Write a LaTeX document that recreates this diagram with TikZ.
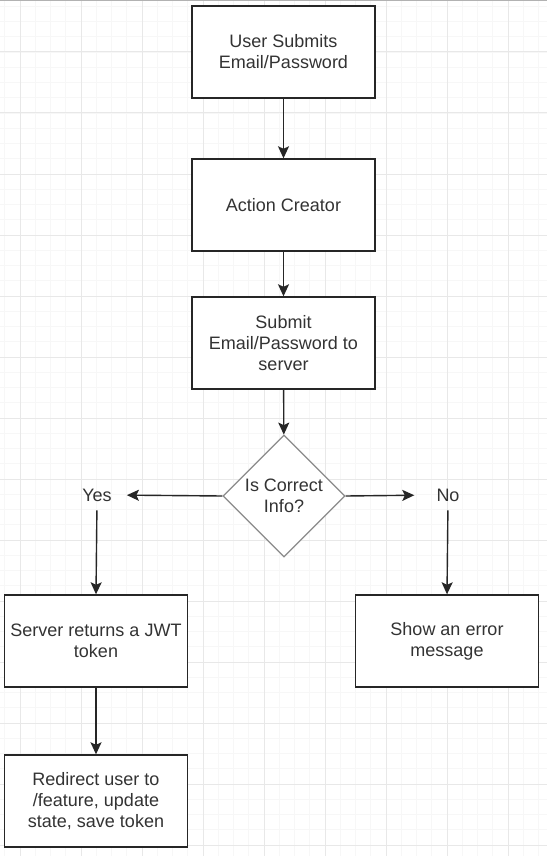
\documentclass[tikz,border=0pt]{standalone}
\usepackage{fontspec}
\setmainfont{Liberation Sans}
\usetikzlibrary{shapes.geometric,arrows.meta}
\definecolor{txt}{HTML}{333333}
\definecolor{edge}{HTML}{262626}
\definecolor{dia}{HTML}{8A8A8A}
\definecolor{gmin}{HTML}{F7F7F7}
\definecolor{gmaj}{HTML}{E8E8E8}
\tikzset{
  procbox/.style={draw=edge, line width=1.4pt, fill=white, minimum width=183pt, minimum height=92pt,
    inner sep=0pt, align=center, text=txt, font=\fontsize{18}{21}\selectfont},
  decision/.style={draw=dia, line width=1.2pt, fill=white, shape=diamond, minimum width=122pt,
    minimum height=122pt, inner sep=0pt, align=center, text=txt, font=\fontsize{18}{21}\selectfont},
  lbl/.style={text=txt, font=\fontsize{18}{21}\selectfont, inner sep=0pt},
  arr/.style={draw=edge, line width=1.4pt, -{Stealth[length=12pt,width=11pt,inset=2.5pt]}},
}
\begin{document}
\begin{tikzpicture}[x=1pt,y=-1pt]
\useasboundingbox (0,0) rectangle (547,856);
\fill[white] (0,0) rectangle (547,856);
% minor grid
\foreach \i in {0,...,36} {
  \pgfmathsetmacro\gx{4.75+15.25*\i}
  \draw[gmin, line width=0.6pt] (\gx,0) -- (\gx,856);
}
\foreach \i in {0,...,57} {
  \pgfmathsetmacro\gy{6.25+15.25*\i}
  \draw[gmin, line width=0.6pt] (0,\gy) -- (547,\gy);
}
% major grid
\foreach \i in {0,...,8} {
  \pgfmathsetmacro\gx{20+61*\i}
  \draw[gmaj, line width=1pt] (\gx,0) -- (\gx,856);
}
\foreach \i in {0,...,13} {
  \pgfmathsetmacro\gy{52+61*\i}
  \draw[gmaj, line width=1pt] (0,\gy) -- (547,\gy);
}
\draw[gray!60, line width=1.2pt] (0,0.6) -- (547,0.6);

% nodes
\node[procbox] (b1) at (283.5,52) {User Submits\\Email/Password};
\node[procbox] (b2) at (283.5,205) {Action Creator};
\node[procbox] (b3) at (283.5,343) {Submit\\Email/Password to\\server};
\node[decision] (d) at (284,496) {Is Correct\\Info?};
\node[lbl] (yes) at (97,495) {Yes};
\node[lbl] (no) at (448,495) {No};
\node[procbox] (b4) at (96,641) {Server returns a JWT\\token};
\node[procbox] (b5) at (447,641) {Show an error\\message};
\node[procbox] (b6) at (96,801) {Redirect user to\\/feature, update\\state, save token};

% connectors
\draw[arr] (b1) -- (b2);
\draw[arr] (b2) -- (b3);
\draw[arr] (b3) -- (d);
\draw[arr, shorten >=15pt] (d.west) -- (yes.east);
\draw[arr, shorten >=22pt] (d.east) -- (no.west);
\draw[arr, shorten <=9pt] (yes.south) -- (b4.north);
\draw[arr, shorten <=9pt] (no.south) -- (b5.north);
\draw[arr] (b4) -- (b6);
\end{tikzpicture}
\end{document}
